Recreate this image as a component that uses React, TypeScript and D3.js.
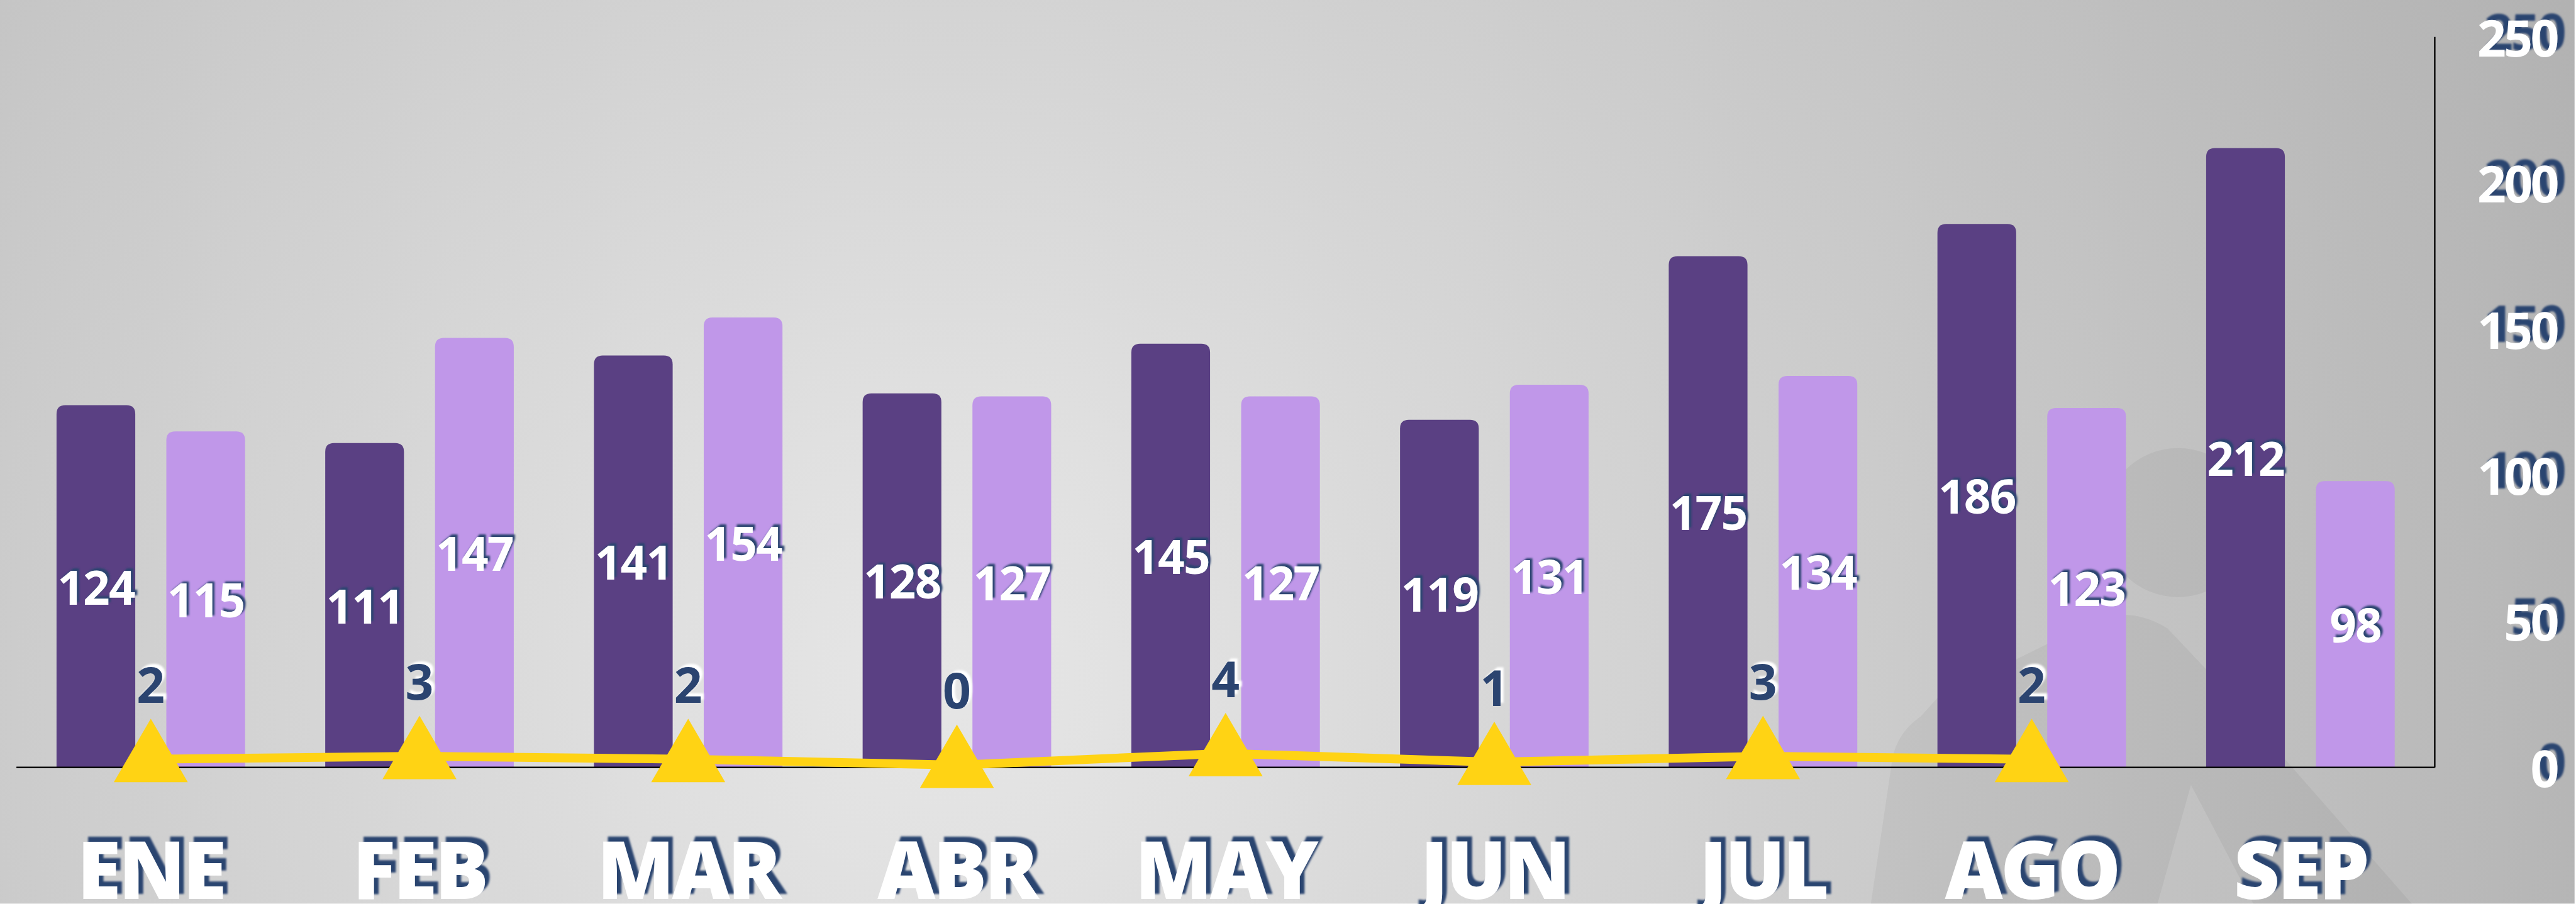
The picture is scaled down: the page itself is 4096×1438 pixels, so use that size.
import React from "react";
import * as d3 from "d3";

const months = ["ENE", "FEB", "MAR", "ABR", "MAY", "JUN", "JUL", "AGO", "SEP"];
const seriesDark = [124, 111, 141, 128, 145, 119, 175, 186, 212];
const seriesLight = [115, 147, 154, 127, 127, 131, 134, 123, 98];
const lineMonths = ["ENE", "FEB", "MAR", "ABR", "MAY", "JUN", "JUL", "AGO"];
const lineValues = [2, 3, 2, 0, 4, 1, 3, 2];
const yTicks = [0, 50, 100, 150, 200, 250];

const W = 4383;
const H = 1539;
const S = 0.934;
const M = { left: 28, right: 4145, top: 63, bottom: 1307 };

const DARK = "#5A4083";
const LIGHT = "#C097E9";
const YELLOW = "#FFD314";
const NAVY = "#2B4470";
const FONT = "'Open Sans', 'Noto Sans', sans-serif";

function topRoundedBar(x: number, y: number, w: number, h: number, r: number) {
  const rr = Math.min(r, w / 2, h);
  const p = d3.path();
  p.moveTo(x, y + h);
  p.lineTo(x, y + rr);
  p.quadraticCurveTo(x, y, x + rr, y);
  p.lineTo(x + w - rr, y);
  p.quadraticCurveTo(x + w, y, x + w, y + rr);
  p.lineTo(x + w, y + h);
  p.closePath();
  return p.toString();
}

function ShadowText({ x, y, text, size, fill, shadow, dx, dy, weight = 700, anchor = "middle", baseline = "central", ls = 0 }: any) {
  return (
    <g fontFamily={FONT} fontWeight={weight} fontSize={size} textAnchor={anchor} letterSpacing={ls}>
      <text x={x + dx} y={y + dy} fill={shadow} dominantBaseline={baseline} filter="url(#soft)">{text}</text>
      <text x={x} y={y} fill={fill} dominantBaseline={baseline}>{text}</text>
    </g>
  );
}

export default function App() {
  const x0 = d3.scaleBand<string>().domain(months).range([M.left, M.right]).padding(0);
  const x1 = d3
    .scaleBand<string>()
    .domain(["dark", "light"])
    .range([0, x0.bandwidth()])
    .paddingInner(0.283)
    .paddingOuter(0.365);
  const y = d3.scaleLinear().domain([0, 250]).range([M.bottom, M.top]);
  const cx = (m: string) => (x0(m) as number) + x0.bandwidth() / 2;

  const linePts: [number, number][] = lineMonths.map((m, i) => [cx(m), y(lineValues[i]) - 4]);
  const lineGen = d3.line();

  const bw = x1.bandwidth();

  const watermark =
    "M3185,1539 L3222,1290 Q3231,1247 3270,1220 L3298,1189 L3560,1060 Q3624,1030 3690,1070 L3755,1139 L4106,1539 Z " +
    "M3730,1337 L3673,1539 L3836,1539 Z";

  return (
    <svg
      width={4096}
      height={1438}
      viewBox={`0 0 ${4096} ${1438}`}
      style={{ position: "absolute", left: 0, top: 0, display: "block" }}
    >
      <defs>
        <radialGradient id="bg" gradientUnits="userSpaceOnUse" cx={1600} cy={1150} r={3000}>
          <stop offset="0" stopColor="#e6e6e6" />
          <stop offset="0.15" stopColor="#e0e0e0" />
          <stop offset="0.6" stopColor="#c8c8c8" />
          <stop offset="1" stopColor="#b2b2b2" />
        </radialGradient>
        <filter id="soft" x="-20%" y="-20%" width="140%" height="140%">
          <feGaussianBlur stdDeviation="1.5" />
        </filter>
      </defs>
      <g transform={`scale(${S})`}>
        <rect x={0} y={0} width={W} height={H} fill="url(#bg)" />
        {/* faint watermark silhouette */}
        <g fill="#000" fillOpacity={0.045}>
          <circle cx={3708} cy={890} r={127} />
          <path d={watermark} fillRule="evenodd" />
        </g>

        {/* bars */}
        {months.map((m, i) => (
          <g key={m}>
            <path
              d={topRoundedBar((x0(m) as number) + (x1("dark") as number), y(seriesDark[i]), bw, M.bottom - y(seriesDark[i]), 15)}
              fill={DARK}
            />
            <path
              d={topRoundedBar((x0(m) as number) + (x1("light") as number), y(seriesLight[i]), bw, M.bottom - y(seriesLight[i]), 15)}
              fill={LIGHT}
            />
          </g>
        ))}

        {/* axes */}
        <line x1={M.left} x2={M.right} y1={M.bottom} y2={M.bottom} stroke="#000" strokeWidth={2.5} />
        <line x1={M.right} x2={M.right} y1={M.top} y2={M.bottom} stroke="#000" strokeWidth={2.5} />

        {/* bar labels */}
        {months.map((m, i) => (
          <g key={"lbl" + m}>
            <ShadowText
              x={(x0(m) as number) + (x1("dark") as number) + bw / 2}
              y={(y(seriesDark[i]) + M.bottom) / 2}
              text={String(seriesDark[i])}
              size={80}
              fill="#fff"
              shadow={NAVY}
              dx={4}
              dy={-4}
              ls={-2}
            />
            <ShadowText
              x={(x0(m) as number) + (x1("light") as number) + bw / 2}
              y={(y(seriesLight[i]) + M.bottom) / 2}
              text={String(seriesLight[i])}
              size={80}
              fill="#fff"
              shadow={NAVY}
              dx={4}
              dy={-4}
              ls={-2}
            />
          </g>
        ))}

        {/* line series */}
        <path d={lineGen(linePts) as string} fill="none" stroke={YELLOW} strokeWidth={15} strokeLinejoin="round" />
        {linePts.map(([px, py], i) => (
          <g key={"tri" + i}>
            <path d={`M${px},${py - 69} L${px + 63},${py + 39} L${px - 63},${py + 39} Z`} fill={YELLOW} />
            <ShadowText
              x={px}
              y={py - 96}
              text={String(lineValues[i])}
              size={84}
              fill={NAVY}
              shadow="#fff"
              dx={5}
              dy={-5}
              baseline="auto"
            />
          </g>
        ))}

        {/* y tick labels (right) */}
        {yTicks.map((t) => (
          <ShadowText
            key={"t" + t}
            x={4353}
            y={y(t)}
            text={String(t)}
            size={86}
            fill="#fff"
            shadow={NAVY}
            dx={12}
            dy={-11}
            anchor="end"
            ls={-4}
          />
        ))}

        {/* month labels */}
        {months.map((m) => (
          <ShadowText
            key={"m" + m}
            x={cx(m)}
            y={1531}
            text={m}
            size={136}
            fill="#fff"
            shadow={NAVY}
            dx={8}
            dy={-8}
            weight={800}
            baseline="auto"
            ls={-4}
          />
        ))}
      </g>
    </svg>
  );
}
